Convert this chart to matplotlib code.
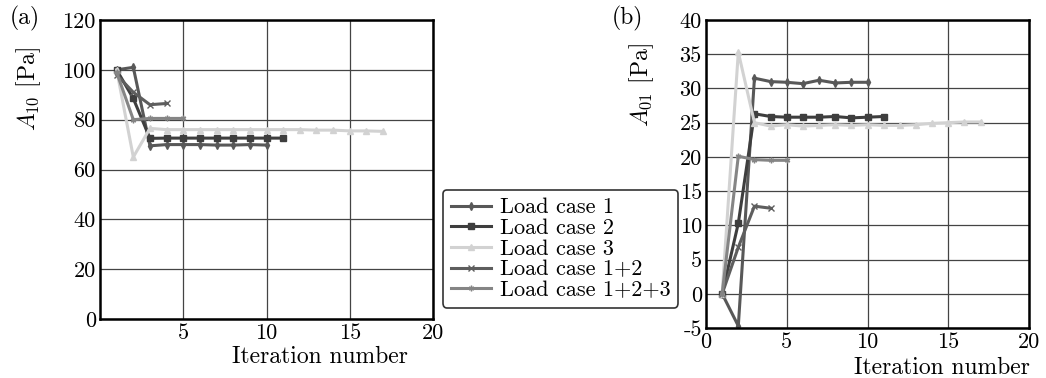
import matplotlib
matplotlib.use("Agg")
import matplotlib.pyplot as plt

plt.rcParams['font.family'] = ['cmr10', 'DejaVu Serif']
plt.rcParams['mathtext.fontset'] = 'cm'
plt.rcParams['axes.unicode_minus'] = False
plt.rcParams['axes.formatter.use_mathtext'] = False

labels = ["Load case 1", "Load case 2", "Load case 3", "Load case 1+2", "Load case 1+2+3"]

# Panel (a): A10
a_lc1 = [100, 101, 69.5, 70.0, 70.0, 70.0, 69.8, 69.8, 70.0, 69.8]
a_lc2 = [100, 88.5, 72.5, 72.6, 72.6, 72.6, 72.6, 72.6, 72.6, 72.6, 72.6]
a_lc3 = [100, 65, 76.5, 76.0, 76.0, 76.0, 76.0, 76.0, 76.0, 76.0, 76.0, 76.0, 75.8, 75.8, 75.5, 75.5, 75.3]
a_lc12 = [98, 91, 86, 86.5]
a_lc123 = [99, 80, 80.5, 80.5, 80.5]

# Panel (b): A01
b_lc1 = [0, -4.7, 31.5, 31.0, 30.9, 30.7, 31.2, 30.8, 30.9, 30.9]
b_lc2 = [0, 10.3, 26.3, 25.9, 25.8, 25.8, 25.8, 25.9, 25.7, 25.8, 25.9]
b_lc3 = [0, 35.3, 25.0, 24.5, 24.7, 24.5, 24.6, 24.7, 24.6, 24.7, 24.6, 24.6, 24.7, 24.9, 25.0, 25.1, 25.1]
b_lc12 = [0, 6.8, 12.8, 12.5]
b_lc123 = [0, 20.1, 19.6, 19.5, 19.5]

colors = ["#585858", "#3e3e3e", "#d2d2d2", "#5e5e5e", "#858585"]
markers = ["d", "s", "^", "x", (6, 2, 0)]

fig = plt.figure(figsize=(10.46, 3.78), dpi=100)
axa = fig.add_axes([100/1046, 1-319/378, 333/1046, 299/378])
axb = fig.add_axes([706/1046, 1-328/378, 323/1046, 308/378])

def draw(ax, series):
    lines = []
    for s, c, m, lab in zip(series, colors, markers, labels):
        xs = list(range(1, len(s) + 1))
        ln, = ax.plot(xs, s, color=c, lw=2.2, marker=m, ms=4, mew=1.0,
                      mec=c, mfc=c, label=lab, solid_joinstyle='round')
        lines.append(ln)
    ax.grid(True, color="#444444", lw=0.9)
    ax.tick_params(length=0, labelsize=16, pad=3)
    for sp in ax.spines.values():
        sp.set_linewidth(1.8)
    return lines

lines = draw(axa, [a_lc1, a_lc2, a_lc3, a_lc12, a_lc123])
axa.set_xlim(0, 20)
axa.set_ylim(0, 120)
axa.set_xticks([5, 10, 15, 20])
axa.set_yticks(range(0, 121, 20))
axa.set_ylabel(r"$A_{10}$ [Pa]", fontsize=17)
axa.yaxis.set_label_coords(-0.17, 0.77)
axa.set_xlabel("Iteration number", fontsize=17)
axa.xaxis.set_label_coords(0.66, -0.09)

draw(axb, [b_lc1, b_lc2, b_lc3, b_lc12, b_lc123])
axb.set_xlim(0, 20)
axb.set_ylim(-5, 40)
axb.set_xticks([0, 5, 10, 15, 20])
axb.set_yticks(range(-5, 41, 5))
axb.set_ylabel(r"$A_{01}$ [Pa]", fontsize=17)
axb.yaxis.set_label_coords(-0.155, 0.79)
axb.set_xlabel("Iteration number", fontsize=17)
axb.xaxis.set_label_coords(0.73, -0.095)

fig.text(10/1046, 1-24/378, "(a)", fontsize=17)
fig.text(612/1046, 1-24/378, "(b)", fontsize=17)

leg = fig.legend(handles=lines, loc="upper left",
                 bbox_to_anchor=(443/1046, 1-190/378), fontsize=16,
                 frameon=True, fancybox=True, edgecolor="black",
                 handlelength=1.8, handletextpad=0.4, labelspacing=0.05,
                 borderpad=0.35, borderaxespad=0.0)
leg.get_frame().set_linewidth(1.2)

fig.savefig("out.png", dpi=100)
